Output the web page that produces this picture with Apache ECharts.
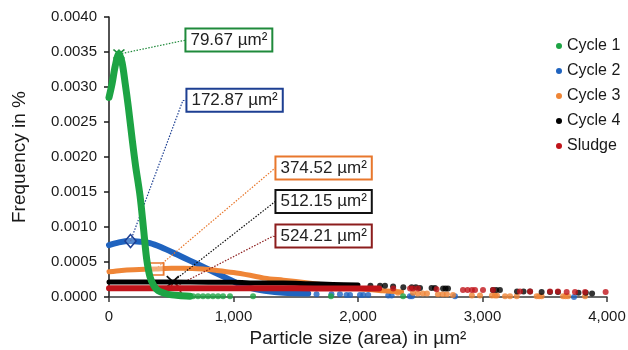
<!DOCTYPE html>
<html>
<head>
<meta charset="utf-8">
<script src="https://cdn.jsdelivr.net/npm/echarts@6/dist/echarts.min.js"></script>
<style>
  html, body { margin: 0; padding: 0; background: #fff; }
  #chart { width: 628px; height: 350px; }
</style>
</head>
<body>
<div id="chart"></div>
<script>
// series names and peak (mean) values
const seriesNames = ['Cycle 1', 'Cycle 2', 'Cycle 3', 'Cycle 4', 'Sludge'];
const peakSize = [79.67, 172.87, 374.52, 512.15, 524.21];
const peakFreq = [0.00347, 0.00080, 0.00040, 0.00022, 0.00014];
const peakText = ['79.67 µm²', '172.87 µm²', '374.52 µm²', '512.15 µm²', '524.21 µm²'];
const yTicks = [0, 0.0005, 0.001, 0.0015, 0.002, 0.0025, 0.003, 0.0035, 0.004];
const xTicks = [0, 1000, 2000, 3000, 4000];

// dense part of each distribution (drawn as a thick line)
const cycle1Curve = [[0, 0.00285], [25, 0.00305], [50, 0.00330], [80, 0.00348], [105, 0.00335],
  [130, 0.00305], [155, 0.00272], [187, 0.00224], [213, 0.00188], [249, 0.00145], [276, 0.00100],
  [302, 0.00055], [329, 0.00029], [360, 0.00016], [394, 0.00009], [450, 0.00005], [503, 0.00003],
  [560, 0.00002], [650, 0.00001]];
const cycle2Curve = [[0, 0.00074], [80, 0.00078], [169, 0.00080], [250, 0.00079], [329, 0.00077], [420, 0.00071],
  [543, 0.00061], [650, 0.00052], [758, 0.00043], [850, 0.00035], [945, 0.00027], [1040, 0.00019],
  [1133, 0.00013], [1250, 0.00009], [1400, 0.00006], [1600, 0.00005]];
const cycle3Curve = [[0, 0.00036], [100, 0.00038], [200, 0.00039], [375, 0.00040], [500, 0.00041], [600, 0.00041],
  [750, 0.00040], [864, 0.00038], [1000, 0.00035], [1133, 0.00031], [1250, 0.00027], [1400, 0.00024],
  [1600, 0.00020], [1800, 0.00016], [2000, 0.00012], [2200, 0.00009], [2350, 0.00007]];
const cycle4Curve = [[0, 0.000215], [200, 0.000215], [512, 0.000215], [800, 0.00021], [1000, 0.00021],
  [1200, 0.00020], [1400, 0.00020], [1600, 0.00019], [1800, 0.00018], [2000, 0.00017]];
const sludgeCurve = [[0, 0.000125], [300, 0.000125], [524, 0.000125], [900, 0.000125], [1200, 0.000125],
  [1500, 0.000125], [1800, 0.00012], [2000, 0.00012], [2170, 0.00012]];

// scattered single particles in the tails
const cycle1Dots = [[675, 0.00001], [715, 0.00001], [755, 0.00001], [795, 0.00001], [835, 0.00001],
  [876, 0.00001], [916, 0.00001], [972, 0.00001], [1157, 0.00001], [1783, 0.00001], [2362, 0.00001]];
const cycle2Dots = [[1667, 0.00004], [1787, 0.00004], [1855, 0.00004], [1908, 0.00003], [1936, 0.00003],
  [2016, 0.00003], [2042, 0.00003], [2082, 0.00003], [2243, 0.00002], [2270, 0.00002], [2417, 0.00001],
  [2434, 0.00001], [2779, 0.00001], [3735, 0.00000]];
const cycle3Dots = [[2321, 0.00006], [2442, 0.00006], [2480, 0.00005], [2520, 0.00005], [2554, 0.00005],
  [2642, 0.00004], [2680, 0.00004], [2714, 0.00004], [2763, 0.00003], [2915, 0.00002], [2980, 0.00002],
  [3076, 0.00002], [3100, 0.00002], [3116, 0.00002], [3181, 0.00001], [3221, 0.00001], [3275, 0.00001],
  [3435, 0.00001], [3455, 0.00001], [3475, 0.00001], [3647, 0.00001], [3667, 0.00001], [3687, 0.00001],
  [3824, 0.00001]];
const cycle4Dots = [[2100, 0.00016], [2177, 0.00016], [2217, 0.00016], [2282, 0.00015], [2364, 0.00014],
  [2431, 0.00014], [2465, 0.00014], [2498, 0.00013], [2591, 0.00013], [2618, 0.00013], [2683, 0.00012],
  [2703, 0.00012], [2723, 0.00012], [3084, 0.00010], [3110, 0.00010], [3140, 0.00010], [3277, 0.00008],
  [3330, 0.00008], [3382, 0.00008], [3475, 0.00007], [3542, 0.00007], [3606, 0.00007], [3771, 0.00006],
  [3830, 0.00006], [3880, 0.00005]];
const sludgeDots = [[2283, 0.00012], [2418, 0.00012], [2442, 0.00012], [2482, 0.00012], [2631, 0.00011],
  [2843, 0.00010], [2880, 0.00010], [2915, 0.00010], [2940, 0.00010], [3004, 0.00010], [3084, 0.00010],
  [3301, 0.00008], [3382, 0.00008], [3542, 0.00008], [3606, 0.00008], [3676, 0.00007], [3743, 0.00007],
  [3824, 0.00007], [3989, 0.00007]];

const curves = [cycle1Curve, cycle2Curve, cycle3Curve, cycle4Curve, sludgeCurve];
const dots = [cycle1Dots, cycle2Dots, cycle3Dots, cycle4Dots, sludgeDots];

// styling
const FONT = '"Liberation Sans", Arial, sans-serif';
const colors = ['#1da444', '#1f63bf', '#ef8536', '#000000', '#c0141a'];
const boxColors = ['#1f8a3b', '#1d3f92', '#e8772c', '#111111', '#8c1d1d'];
const lineWidths = [7, 6, 5, 5, 6];
const zOrder = [7, 3, 4, 5, 6];
const xMark = 'path://M0,0L10,10M10,0L0,10M5,0L5,2';
const peakSymbols = [
  {symbol: xMark, symbolSize: [11, 9], fill: 'none'},
  {symbol: 'diamond', symbolSize: [11, 13], fill: 'rgba(255,255,255,0.25)'},
  {symbol: 'rect', symbolSize: [16, 12], fill: 'rgba(255,255,255,0.35)'},
  {symbol: 'path://M0,0L10,10M10,0L0,10', symbolSize: [12, 11], fill: 'none'},
  {symbol: 'triangle', symbolSize: [15, 13], fill: 'rgba(255,255,255,0.5)'}
];
// where the callout boxes sit (left middle of box), in axis units
const calloutAnchor = [[618, 0.003671], [626, 0.00281], [1341, 0.001843], [1341, 0.001364], [1341, 0.000871]];
const leaderEnd = [[618, 0.003671], [594, 0.00281], [1335, 0.001843], [1335, 0.001364], [1320, 0.000871]];

let series = [];
seriesNames.forEach((name, i) => {
    series.push({
        name: name,
        type: 'line',
        data: curves[i],
        showSymbol: false,
        smooth: 0.3,
        z: zOrder[i],
        color: colors[i],
        lineStyle: {width: lineWidths[i], color: colors[i], cap: 'round', join: 'round'},
        silent: true
    });
    series.push({
        name: name,
        type: 'scatter',
        data: dots[i],
        symbolSize: 6,
        z: zOrder[i],
        itemStyle: {color: colors[i]},
        silent: true
    });
});

// overlay: peak markers, dotted leaders and value boxes
let markData = [];
let leaderData = [];
seriesNames.forEach((name, i) => {
    let ps = peakSymbols[i];
    markData.push({
        coord: [peakSize[i], peakFreq[i]],
        symbol: ps.symbol,
        symbolSize: ps.symbolSize,
        itemStyle: {color: ps.fill, borderColor: boxColors[i], borderWidth: 1.6},
        label: {show: false}
    });
    markData.push({
        coord: calloutAnchor[i],
        symbol: 'circle',
        symbolSize: 1,
        itemStyle: {color: 'rgba(0,0,0,0)'},
        label: {
            show: true,
            position: 'right',
            distance: 0,
            formatter: peakText[i],
            color: '#222',
            fontSize: 17,
            fontFamily: FONT,
            backgroundColor: '#fff',
            borderColor: boxColors[i],
            borderWidth: 2,
            padding: [3, 4, 1, 4]
        }
    });
    leaderData.push([
        {coord: [peakSize[i], peakFreq[i]], lineStyle: {color: boxColors[i]}},
        {coord: leaderEnd[i]}
    ]);
    if (leaderEnd[i][0] !== calloutAnchor[i][0]) {
        leaderData.push([
            {coord: leaderEnd[i], lineStyle: {color: boxColors[i]}},
            {coord: calloutAnchor[i]}
        ]);
    }
});

series.push({
    type: 'scatter',
    data: [],
    z: 20,
    silent: true,
    markLine: {
        silent: true,
        animation: false,
        symbol: ['none', 'none'],
        label: {show: false},
        lineStyle: {type: [1.5, 1.5], width: 1.2},
        data: leaderData
    },
    markPoint: {
        silent: true,
        animation: false,
        data: markData
    }
});

const chart = echarts.init(document.getElementById('chart'));
chart.setOption({
    animation: false,
    backgroundColor: '#fff',
    textStyle: {fontFamily: FONT},
    grid: {left: 109, right: 21, top: 17, bottom: 53, containLabel: false, outerBoundsMode: 'none'},
    legend: {
        data: seriesNames,
        orient: 'vertical',
        left: 551,
        top: 32,
        icon: 'circle',
        itemWidth: 6,
        itemHeight: 6,
        itemGap: 7,
        textStyle: {fontSize: 16, lineHeight: 18, color: '#1a1a1a', fontFamily: FONT}
    },
    xAxis: {
        type: 'value',
        min: xTicks[0],
        max: xTicks[xTicks.length - 1],
        interval: xTicks[1] - xTicks[0],
        name: 'Particle size (area) in µm²',
        nameLocation: 'middle',
        nameGap: 32,
        nameTextStyle: {fontSize: 19, color: '#1a1a1a', fontFamily: FONT},
        axisLine: {lineStyle: {color: '#3a3a3a', width: 1.5}},
        axisTick: {show: true, length: 5, lineStyle: {color: '#3a3a3a', width: 1.5}},
        axisLabel: {
            fontSize: 15, color: '#1a1a1a', margin: 12, fontFamily: FONT,
            formatter: v => v.toLocaleString('en-US')
        },
        splitLine: {show: false}
    },
    yAxis: {
        type: 'value',
        min: yTicks[0],
        max: yTicks[yTicks.length - 1],
        interval: yTicks[1] - yTicks[0],
        name: 'Frequency in %',
        nameLocation: 'middle',
        nameGap: 80,
        nameTextStyle: {fontSize: 19, color: '#1a1a1a', fontFamily: FONT},
        axisLine: {show: true, lineStyle: {color: '#1a1a1a', width: 1.5}},
        axisTick: {show: true, length: 5, lineStyle: {color: '#1a1a1a', width: 1.5}},
        axisLabel: {
            fontSize: 15, color: '#1a1a1a', margin: 12, fontFamily: FONT,
            formatter: v => v.toFixed(4)
        },
        splitLine: {show: false}
    },
    series: series
});
</script>
</body>
</html>
